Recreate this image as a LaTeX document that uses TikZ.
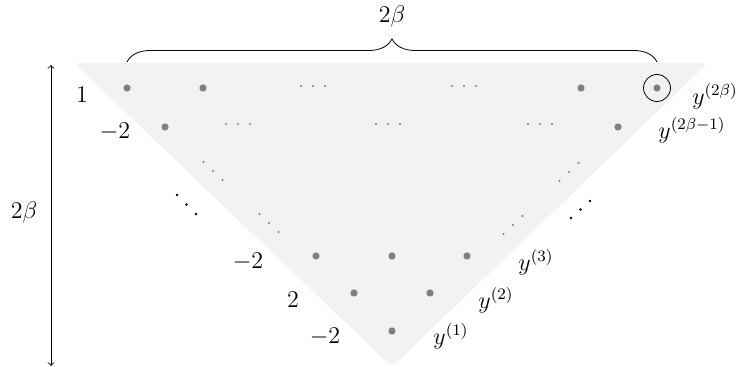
\documentclass[tikz,border=0pt]{standalone}
\usetikzlibrary{decorations.pathreplacing}
\begin{document}
\begin{tikzpicture}[x=0.5pt,y=-0.5pt,
  bigdot/.style={circle,fill=gray,inner sep=0pt,minimum size=3.6pt},
  smalldot/.style={circle,fill=gray,inner sep=0pt,minimum size=1.1pt},
  blackdot/.style={circle,fill=black,inner sep=0pt,minimum size=1.3pt},
  lab/.style={inner sep=0pt,font=\large}]
\useasboundingbox (0,0) rectangle (740,367);
\fill[black!5, rounded corners=3pt] (74,63) -- (708,63) -- (392,367) -- cycle;
% big dots
\node[bigdot] (r1a) at (127,88) {};
\node[bigdot] (r1b) at (203,88) {};
\node[bigdot] (r1e) at (581,88) {};
\node[bigdot] (r1f) at (657,88) {};
\node[bigdot] (r2a) at (165,127) {};
\node[bigdot] (r2e) at (618,127) {};
\node[bigdot] (r3a) at (316,256) {};
\node[bigdot] (r3b) at (392,256) {};
\node[bigdot] (r3c) at (467,256) {};
\node[bigdot] (r4a) at (354,293) {};
\node[bigdot] (r4b) at (430,293) {};
\node[bigdot] (r5a) at (392,331) {};
% circled top-right dot
\node[draw,circle,minimum size=13.5pt,inner sep=0pt] (ring) at (r1f) {};
% horizontal ellipses
\foreach \cx/\cy [count=\i] in {313/86,464/86,238/124,388/124,540/124}{
  \node[smalldot] (h\i a) at (\cx-12,\cy) {};
  \node[smalldot] (h\i b) at (\cx,\cy) {};
  \node[smalldot] (h\i c) at (\cx+12,\cy) {};
}
% diagonal gray dots
\foreach \cx/\cy [count=\i] in {213/171,269/223}{
  \node[smalldot] (dl\i a) at (\cx-9.5,\cy-9) {};
  \node[smalldot] (dl\i b) at (\cx,\cy) {};
  \node[smalldot] (dl\i c) at (\cx+9.5,\cy+9) {};
}
\foreach \cx/\cy [count=\i] in {569/172,513/225}{
  \node[smalldot] (dr\i a) at (\cx+9.5,\cy-9) {};
  \node[smalldot] (dr\i b) at (\cx,\cy) {};
  \node[smalldot] (dr\i c) at (\cx-9.5,\cy+9) {};
}
% black diagonal dots outside
\node[blackdot] (bl1) at (177,195) {};
\node[blackdot] (bl2) at (186.5,204.5) {};
\node[blackdot] (bl3) at (196,214) {};
\node[blackdot] (br1) at (590,201) {};
\node[blackdot] (br2) at (580.5,209.5) {};
\node[blackdot] (br3) at (571,218) {};
% left labels
\node[lab] (l1) at (82,95) {$1$};
\node[lab] (l2) at (115,132) {$-2$};
\node[lab] (l3) at (248,262) {$-2$};
\node[lab] (l4) at (293,300) {$2$};
\node[lab] (l5) at (325,337) {$-2$};
% right labels
\node[lab] (y6) at (715,96) {$y^{(2\beta)}$};
\node[lab] (y5) at (692,130) {$y^{(2\beta-1)}$};
\node[lab] (y3) at (536,262) {$y^{(3)}$};
\node[lab] (y2) at (496,300) {$y^{(2)}$};
\node[lab] (y1) at (451,336) {$y^{(1)}$};
% brace
\coordinate (bl) at (127,62);
\coordinate (br) at (657,62);
\draw[decorate,decoration={brace,amplitude=11.5pt}] (bl) -- (br);
\node[lab] (top) at (392,17) {$2\beta$};
% vertical arrow
\coordinate (at) at (51,65);
\coordinate (ab) at (51,366);
\draw[<->] (at) -- (ab);
\node[lab] (side) at (24,213) {$2\beta$};
\end{tikzpicture}
\end{document}
